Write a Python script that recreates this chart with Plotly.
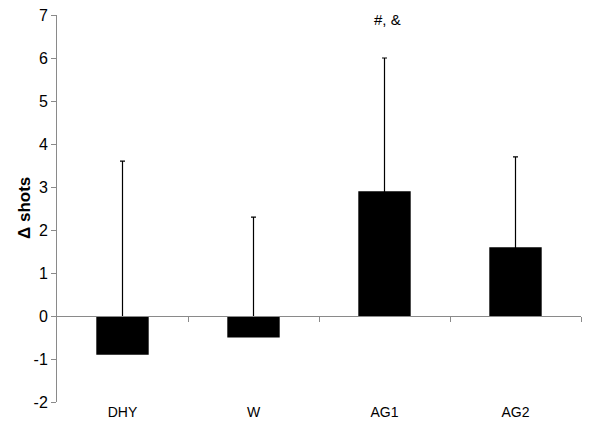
import plotly.graph_objects as go

categories = ["DHY", "W", "AG1", "AG2"]
means = [-0.9, -0.5, 2.9, 1.6]
upper = [3.6, 2.3, 6.0, 3.7]
y_ticks = list(range(-2, 8))
y_ticktext = [str(v) for v in y_ticks]
annot_text = "#, &"
annot_cat = "AG1"
annot_y = 6.9

# error bars start inside each bar (hidden there) and reach the upper value
err_base = [m / 2 for m in means]
err_plus = [u - b for u, b in zip(upper, err_base)]

fig = go.Figure()
fig.add_trace(go.Bar(
    x=categories, y=means, width=0.4,
    marker=dict(color="black", line=dict(width=0)),
    showlegend=False,
))
fig.add_trace(go.Scatter(
    x=categories, y=err_base, mode="markers",
    marker=dict(opacity=0),
    error_y=dict(type="data", symmetric=False, array=err_plus,
                 arrayminus=[0] * len(means), color="black",
                 thickness=1.2, width=2.5),
    showlegend=False, hoverinfo="skip",
))
fig.add_trace(go.Scatter(x=[0.5], y=[0], xaxis="x2", mode="markers",
                         marker=dict(opacity=0), showlegend=False, hoverinfo="skip"))

axis_gray = "#8a8a8a"
# page body has an 8px margin, so the figure is sized/offset to compensate
fig.update_layout(
    width=592, height=416,
    margin=dict(l=49, r=19, t=7, b=22),
    plot_bgcolor="white", paper_bgcolor="white",
    font=dict(family="Liberation Sans, Arial, sans-serif", size=14, color="black"),
    xaxis=dict(type="category", categoryarray=categories, range=[-0.5, 3.5],
               showline=False, ticks="", showgrid=False, zeroline=False,
               automargin=False, tickfont=dict(size=14)),
    xaxis2=dict(overlaying="x", anchor="free", position=2 / 9,
                range=[-0.5, 3.5], tickvals=[0.5, 1.5, 2.5, 3.5],
                showticklabels=False, ticks="outside", ticklen=5,
                tickcolor=axis_gray, showline=True, linecolor=axis_gray,
                linewidth=1, showgrid=False, zeroline=False, automargin=False),
    yaxis=dict(range=[-2, 7], tickvals=y_ticks, ticktext=y_ticktext,
               showgrid=False, zeroline=False, automargin=False,
               ticklabeloverflow="allow",
               showline=True, linecolor=axis_gray, linewidth=1,
               ticks="outside", ticklen=5, tickcolor=axis_gray,
               tickfont=dict(size=16)),
)
fig.add_annotation(xref="paper", yref="paper", x=0, y=0.5, xshift=-44,
                   text="<b>Δ shots</b>", textangle=-90, showarrow=False,
                   font=dict(size=17))
fig.add_annotation(x=annot_cat, y=annot_y, text=annot_text, showarrow=False,
                   xshift=3, font=dict(size=15))
fig.write_html("out.html")
